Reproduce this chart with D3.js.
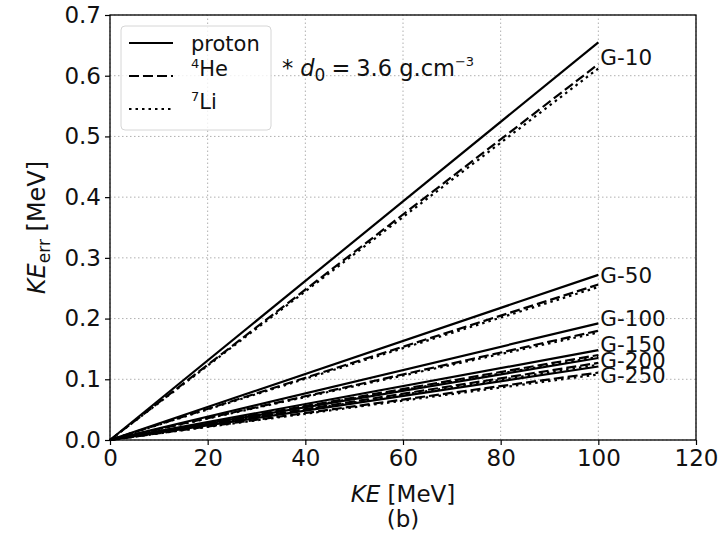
<!DOCTYPE html>
<html>
<head>
<meta charset="utf-8">
<script src="https://cdn.jsdelivr.net/npm/d3@7"></script>
<style>
  body { margin: 0; background: #fff; }
  text { font-family: "DejaVu Sans", sans-serif; fill: #111; }
</style>
</head>
<body>
<div id="chart"></div>
<script>

// groups and KE values at the two ends of each line
const groups = ["G-10", "G-50", "G-100", "G-150", "G-200", "G-250"];
const keValues = [0, 100];

// KE_err at KE = 100 MeV
const protonEnd = [0.655, 0.272, 0.192, 0.148, 0.135, 0.121];
const heliumEnd = [0.619, 0.256, 0.180, 0.140, 0.127, 0.111];
const lithiumEnd = [0.612, 0.252, 0.177, 0.137, 0.124, 0.108];

// where the group labels sit (data units)
const labelY = [0.631, 0.272, 0.201, 0.157, 0.132, 0.107];

const species = ["proton", "4He", "7Li"];
const xTicks = [0, 20, 40, 60, 80, 100, 120];
const yTicks = [0.0, 0.1, 0.2, 0.3, 0.4, 0.5, 0.6, 0.7];

const width = 718, height = 541;
const margin = {left: 110, right: 22, top: 15, bottom: 101};

const svg = d3.select("#chart").append("svg")
  .attr("width", width)
  .attr("height", height);

const x = d3.scaleLinear().domain([0, 120]).range([margin.left, width - margin.right]);
const y = d3.scaleLinear().domain([0, 0.7]).range([height - margin.bottom, margin.top]);

// grid
const grid = svg.append("g");
grid.selectAll(".gx").data(xTicks).enter().append("line")
  .attr("x1", d => x(d)).attr("x2", d => x(d))
  .attr("y1", y(0)).attr("y2", y(0.7))
  .attr("stroke", "#b0b0b0").attr("stroke-width", 1)
  .attr("stroke-dasharray", "1.5,2.5");
grid.selectAll(".gy").data(yTicks).enter().append("line")
  .attr("x1", x(0)).attr("x2", x(120))
  .attr("y1", d => y(d)).attr("y2", d => y(d))
  .attr("stroke", "#b0b0b0").attr("stroke-width", 1)
  .attr("stroke-dasharray", "1.5,2.5");

// lines
const styles = {
  proton: null,
  "4He": "10,4",
  "7Li": "2.5,4"
};
const ends = {proton: protonEnd, "4He": heliumEnd, "7Li": lithiumEnd};

const line = d3.line().x(d => x(d[0])).y(d => y(d[1]));

const lines = svg.append("g");
species.slice().reverse().forEach(function (s) {
  groups.forEach(function (g, i) {
    const pts = keValues.map(k => [k, ends[s][i] * k / 100]);
    lines.append("path")
      .attr("d", line(pts))
      .attr("fill", "none")
      .attr("stroke", "#000")
      .attr("stroke-width", 2.2)
      .attr("stroke-dasharray", styles[s]);
  });
});

// group labels (they overlap at the bottom, as in the original)
svg.append("g").selectAll("text").data(groups).enter().append("text")
  .attr("x", x(100) + 2)
  .attr("y", (d, i) => y(labelY[i]))
  .attr("dy", "0.36em")
  .attr("font-size", 21.5)
  .text(d => d);

// axes
const xAxis = svg.append("g")
  .attr("transform", "translate(0," + y(0) + ")")
  .call(d3.axisBottom(x).tickValues(xTicks).tickSize(5).tickPadding(5).tickFormat(d3.format("d")));
const yAxis = svg.append("g")
  .attr("transform", "translate(" + x(0) + ",0)")
  .call(d3.axisLeft(y).tickValues(yTicks).tickSize(5).tickPadding(4).tickFormat(d3.format(".1f")));
[xAxis, yAxis].forEach(function (a) {
  a.select(".domain").remove();
  a.selectAll("line").attr("stroke", "#000").attr("stroke-width", 1.2);
  a.selectAll("text").attr("font-size", 23).attr("font-family", "DejaVu Sans").attr("fill", "#111");
});

// frame
svg.append("rect")
  .attr("x", x(0)).attr("y", y(0.7))
  .attr("width", x(120) - x(0)).attr("height", y(0) - y(0.7))
  .attr("fill", "none").attr("stroke", "#000").attr("stroke-width", 1.3);

// axis labels
const xl = svg.append("text")
  .attr("x", (x(0) + x(120)) / 2)
  .attr("y", 502)
  .attr("text-anchor", "middle")
  .attr("font-size", 23);
xl.append("tspan").attr("font-style", "italic").text("KE");
xl.append("tspan").text(" [MeV]");

svg.append("text")
  .attr("x", (x(0) + x(120)) / 2)
  .attr("y", 527)
  .attr("text-anchor", "middle")
  .attr("font-size", 23)
  .text("(b)");

const yl = svg.append("text")
  .attr("transform", "translate(45," + ((y(0) + y(0.7)) / 2) + ") rotate(-90)")
  .attr("text-anchor", "middle")
  .attr("font-size", 24);
yl.append("tspan").attr("font-style", "italic").text("KE");
yl.append("tspan").attr("font-size", 17).attr("dy", 5).text("err");
yl.append("tspan").attr("dy", -5).text(" [MeV]");

// legend
const leg = svg.append("g").attr("transform", "translate(121,26)");
leg.append("rect")
  .attr("width", 150).attr("height", 104)
  .attr("rx", 4)
  .attr("fill", "#fff").attr("fill-opacity", 0.8)
  .attr("stroke", "#d6d6d6").attr("stroke-width", 1);
species.forEach(function (s, i) {
  const ly = 17 + i * 33;
  leg.append("line")
    .attr("x1", 8).attr("x2", 52)
    .attr("y1", ly).attr("y2", ly)
    .attr("stroke", "#000").attr("stroke-width", 2.2)
    .attr("stroke-dasharray", styles[s]);
  const t = leg.append("text")
    .attr("x", 70).attr("y", ly).attr("dy", "0.36em")
    .attr("font-size", 21);
  if (s === "proton") {
    t.text("proton");
  } else {
    t.append("tspan").attr("font-size", 13).attr("dy", -8).text(s[0]);
    t.append("tspan").attr("dy", 8).text(s.slice(1));
  }
});

// annotation
const ann = svg.append("text")
  .attr("x", x(35.2))
  .attr("y", y(0.6))
  .attr("font-size", 22.5);
ann.append("tspan").text("* ");
ann.append("tspan").attr("font-style", "italic").text("d");
ann.append("tspan").attr("font-size", 17).attr("dy", 5).text("0");
ann.append("tspan").attr("dy", -5).attr("dx", 6).text("=");
ann.append("tspan").attr("dx", 6).text("3.6 g.cm");
ann.append("tspan").attr("font-size", 13).attr("dy", -10).text("\u22123");

</script>
</body>
</html>
